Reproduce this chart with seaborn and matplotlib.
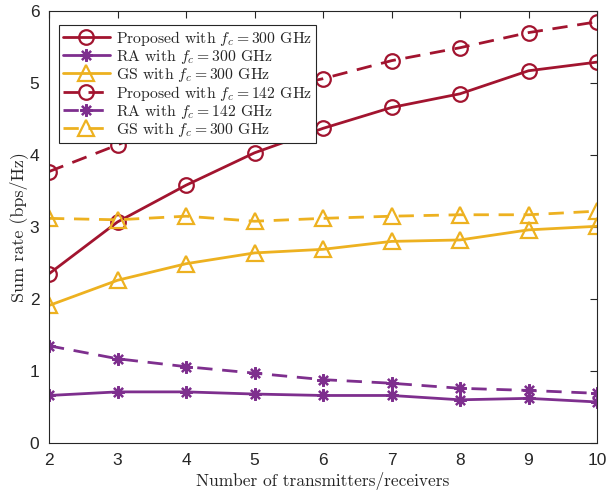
import matplotlib
matplotlib.use("Agg")
import matplotlib.pyplot as plt
import seaborn as sns
import pandas as pd

sns.set_style("white")
plt.rcParams["mathtext.fontset"] = "cm"
plt.rcParams["font.family"] = ["Liberation Sans", "DejaVu Sans"]

x = [2, 3, 4, 5, 6, 7, 8, 9, 10]
prop_300 = [2.35, 3.07, 3.58, 4.03, 4.37, 4.66, 4.85, 5.17, 5.29]
ra_300 = [0.66, 0.71, 0.71, 0.68, 0.66, 0.66, 0.60, 0.62, 0.57]
gs_300 = [1.91, 2.26, 2.49, 2.64, 2.69, 2.80, 2.82, 2.96, 3.01]
prop_142 = [3.77, 4.14, 4.55, 4.85, 5.06, 5.31, 5.49, 5.70, 5.85]
ra_142 = [1.35, 1.17, 1.06, 0.97, 0.88, 0.83, 0.76, 0.73, 0.69]
gs_300b = [3.12, 3.10, 3.15, 3.08, 3.12, 3.15, 3.17, 3.17, 3.22]

labels = [
    r"Proposed with $f_c = 300$ GHz",
    r"RA with $f_c = 300$ GHz",
    r"GS with $f_c = 300$ GHz",
    r"Proposed with $f_c = 142$ GHz",
    r"RA with $f_c = 142$ GHz",
    r"GS with $f_c = 300$ GHz",
]
series = [prop_300, ra_300, gs_300, prop_142, ra_142, gs_300b]

red = "#A2142F"
purple = "#7E2F8E"
yellow = "#EDB120"
colors = [red, purple, yellow, red, purple, yellow]
styles = ["-", "-", "-", (0, (5.5, 3.5)), (0, (5.5, 3.5)), (0, (5.5, 3.5))]
markers = ["o", (8, 2, 0), "^", "o", (8, 2, 0), "^"]
msizes = [10.5, 9, 11.5, 10.5, 9, 11.5]

fig = plt.figure(figsize=(6.06, 4.95), dpi=100)
ax = fig.add_axes([49 / 606, 1 - 443 / 495, 548 / 606, 432 / 495])

for lab, ys, c, ls, m, ms in zip(labels, series, colors, styles, markers, msizes):
    df = pd.DataFrame({"x": x, "y": ys})
    sns.lineplot(data=df, x="x", y="y", ax=ax, color=c, linestyle=ls,
                 marker=m, markersize=ms, markerfacecolor="none",
                 markeredgecolor=c, markeredgewidth=1.6, linewidth=2.0,
                 label=lab)

ax.set_xlim(2, 10)
ax.set_ylim(0, 6)
ax.set_xticks(x)
ax.set_yticks([0, 1, 2, 3, 4, 5, 6])
ax.tick_params(direction="in", length=5, width=0.8, top=True, right=True,
               labelsize=12.5, colors="#262626", pad=7)
for sp in ax.spines.values():
    sp.set_visible(True)
    sp.set_color("#262626")
    sp.set_linewidth(0.8)

ax.set_xlabel("Number of transmitters/receivers", fontfamily="cmr10",
              fontsize=12.5, color="#262626", labelpad=3)
ax.set_ylabel("Sum rate (bps/Hz)", fontfamily="cmr10", fontsize=13,
              color="#262626", labelpad=1)

leg = ax.legend(loc="upper left", bbox_to_anchor=(10 / 548, 1 - 14 / 432),
                prop={"family": "cmr10", "size": 11.3}, frameon=True,
                fancybox=False, edgecolor="#262626", framealpha=1,
                handlelength=3.0, handletextpad=0.4, labelspacing=0.0,
                borderpad=0.25, borderaxespad=0)
leg.get_frame().set_linewidth(0.8)

fig.savefig("out.png", dpi=100)
